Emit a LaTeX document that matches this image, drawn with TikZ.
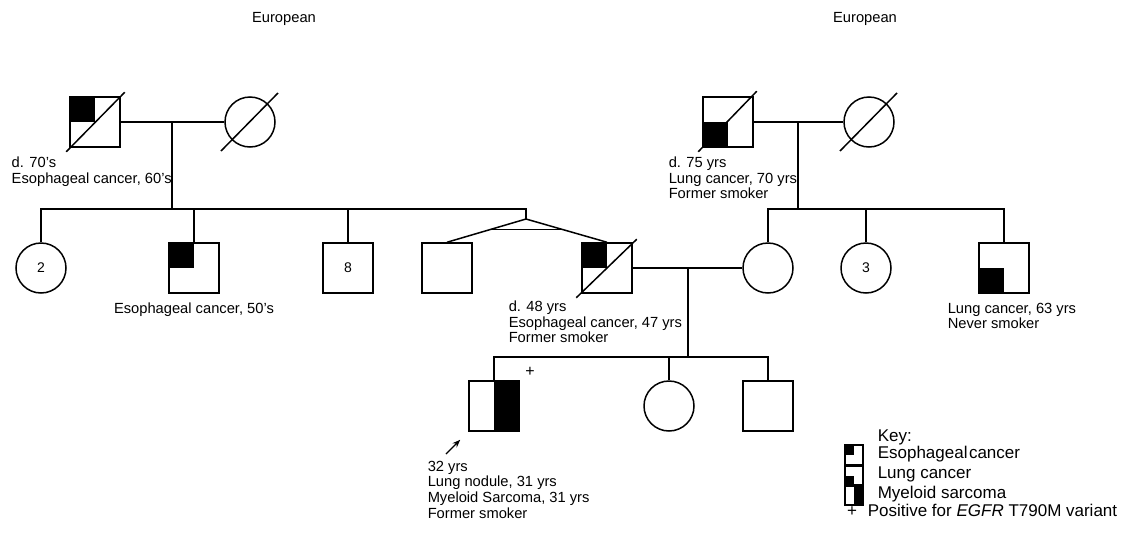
\documentclass[tikz,border=0pt]{standalone}
\usepackage{fontspec}
\setmainfont{Liberation Sans}
\usetikzlibrary{calc,arrows.meta}
\begin{document}
\begin{tikzpicture}[x=1pt,y=-1pt,line width=1.5pt,
  male/.style={draw,rectangle,minimum size=50pt,inner sep=0pt,font=\fontsize{14}{16}\selectfont},
  female/.style={draw,circle,minimum size=50pt,inner sep=0pt,font=\fontsize{14}{16}\selectfont},
  tl/.style={path picture={\fill (path picture bounding box.north west) rectangle (path picture bounding box.center);}},
  bl/.style={path picture={\fill (path picture bounding box.south west) rectangle (path picture bounding box.center);}},
  rh/.style={path picture={\fill (path picture bounding box.north) rectangle (path picture bounding box.south east);}},
  lbl/.style={anchor=north west,inner sep=0pt,align=left,font=\fontsize{14.7}{15.7}\selectfont},
  keyicon/.style={draw,rectangle,minimum width=18pt,minimum height=20pt,inner sep=0pt,line width=1.4pt},
  keytxt/.style={anchor=base west,inner sep=0pt,font=\fontsize{17}{20}\selectfont}]
\useasboundingbox (0,0) rectangle (1128,536);

% ethnicity
\node[font=\fontsize{14.7}{16}\selectfont] (eL) at (284,19) {European};
\node[font=\fontsize{14.7}{16}\selectfont] (eR) at (865,19) {European};

% generation I
\node[male,tl] (g1) at (95,122) {};
\node[female] (g2) at (250,122) {};
\node[male,bl] (g3) at (728,122) {};
\node[female] (g4) at (869,122) {};
\draw ($(g1.south west)+(-3,4)$) -- ($(g1.north east)+(4,-4)$);
\draw ($(g2.center)+(-29,29)$) -- ($(g2.center)+(28,-29)$);
\draw ($(g3.south west)+(-4,4)$) -- ($(g3.north east)+(3,-5)$);
\draw ($(g4.center)+(-29,29)$) -- ($(g4.center)+(28,-29)$);
\draw (g1.east) -- (g2.west);
\draw (g3.east) -- (g4.west);
\coordinate (mL) at (172,122);
\coordinate (sibL) at (172,209);
\coordinate (mR) at (798,122);
\coordinate (sibR) at (798,209);
\draw (mL) -- (sibL);
\draw (mR) -- (sibR);

\node[lbl] (t1) at (11,156) {d. 70's\\Esophageal cancer, 60's};
\node[lbl] (t2) at (668,156) {d. 75 yrs\\Lung cancer, 70 yrs\\Former smoker};

% generation II
\node[female] (c1) at (41,268) {2};
\node[male,tl] (c2) at (194,268) {};
\node[male] (c3) at (348,268) {8};
\node[male] (c4) at (447,268) {};
\node[male,tl] (c5) at (607,268) {};
\node[female] (s1) at (768,268) {};
\node[female] (s2) at (866,268) {3};
\node[male,bl] (s3) at (1004,268) {};
\draw ($(c5.south west)+(-5,4)$) -- ($(c5.north east)+(4,-3)$);

\coordinate (tw) at (526,219);
\draw (c1.north) |- (sibL);
\draw (sibL) -- (tw |- sibL) -- (tw);
\draw (c2.north) -- (c2.north |- sibL);
\draw (c3.north) -- (c3.north |- sibL);
\draw (c4.north) -- (tw) -- (c5.north);
\draw ($(tw)!0.458!(c4.north)$) -- ($(tw)!0.458!(c5.north)$);

\draw (s1.north) |- (s3.north |- sibR) -- (s3.north);
\draw (s2.north) -- (s2.north |- sibR);

\draw (c5.east) -- (s1.west);
\coordinate (mC) at (688,268);
\coordinate (sibC) at (688,357);
\draw (mC) -- (sibC);

\node[lbl,anchor=north] (t3) at (194,302) {Esophageal cancer, 50's};
\node[lbl] (t4) at (508,300) {d. 48 yrs\\Esophageal cancer, 47 yrs\\Former smoker};
\node[lbl] (t5) at (947,302) {Lung cancer, 63 yrs\\Never smoker};

% generation III
\node[male,rh] (p) at (494,406) {};
\node[female] (d1) at (669,406) {};
\node[male] (d2) at (768,406) {};
\draw (p.north) |- (d2.north |- sibC) -- (d2.north);
\draw (d1.north) -- (d1.north |- sibC);
\node[font=\fontsize{16}{18}\selectfont,inner sep=0pt] (plus) at (530,372) {+};
\coordinate (arT) at (446,454);
\draw[line width=1.2pt,-{Stealth[length=8pt,width=6pt]}] (arT) -- ($(p.south west)+(-8,8)$);
\node[lbl] (t6) at (427,460) {32 yrs\\Lung nodule, 31 yrs\\Myeloid Sarcoma, 31 yrs\\Former smoker};

% key
\node[keytxt] (k0) at (877,441) {Key:};
\node[keyicon,tl] (k1) at (854,455) {};
\node[keyicon,bl] (k2) at (854,476) {};
\node[keyicon,rh] (k3) at (854,495) {};
\node[keytxt] (k1t) at (877,458) {Esophageal\kern1.5pt cancer};
\node[keytxt] (k2t) at (877,478) {Lung cancer};
\node[keytxt] (k3t) at (877,498) {Myeloid sarcoma};
\node[keytxt,anchor=base] (k4p) at (852,516) {+};
\node[keytxt] (k4t) at (867,516) {Positive for \textit{EGFR} T790M variant};
\end{tikzpicture}
\end{document}
